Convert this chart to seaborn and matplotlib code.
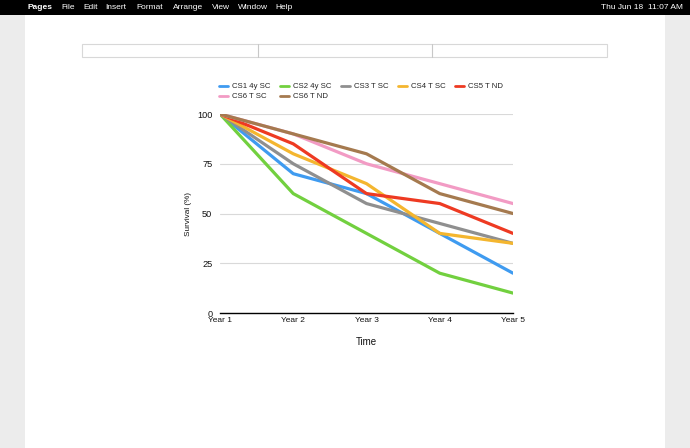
import matplotlib
matplotlib.use("Agg")
import matplotlib.pyplot as plt
import seaborn as sns
import pandas as pd
from matplotlib.patches import Rectangle
from matplotlib.lines import Line2D

years = ["Year 1", "Year 2", "Year 3", "Year 4", "Year 5"]
series_names = ["CS1 4y SC", "CS2 4y SC", "CS3 T SC", "CS4 T SC", "CS5 T ND", "CS6 T SC", "CS6 T ND"]
cs1_4y_sc = [100, 70, 60, 40, 20]
cs2_4y_sc = [100, 60, 40, 20, 10]
cs3_t_sc = [100, 75, 55, 45, 35]
cs4_t_sc = [100, 80, 65, 40, 35]
cs5_t_nd = [100, 85, 60, 55, 40]
cs6_t_sc = [100, 90, 75, 65, 55]
cs6_t_nd = [100, 90, 80, 60, 50]
y_ticks = [0, 25, 50, 75, 100]
colors = ["#3f9bf0", "#72d03f", "#8f8f8f", "#f4b62f", "#ee3a22", "#f29bc4", "#a57a4f"]

values = [cs1_4y_sc, cs2_4y_sc, cs3_t_sc, cs4_t_sc, cs5_t_nd, cs6_t_sc, cs6_t_nd]
rows = []
for name, vals in zip(series_names, values):
    for i, (yr, v) in enumerate(zip(years, vals)):
        rows.append({"Time": i, "Year": yr, "Survival": v, "Series": name})
df = pd.DataFrame(rows)

sns.set_theme(style="white")
plt.rcParams["font.family"] = ["Liberation Sans", "DejaVu Sans"]

fig = plt.figure(figsize=(6.9, 4.48), dpi=100)
W, H = 690, 448

def fx(x):
    return x / W

def fy(y):
    return 1 - y / H

# window chrome
fig.patch.set_facecolor("#ececec")
fig.add_artist(Rectangle((fx(25), 0), fx(640), fy(15), transform=fig.transFigure,
                         facecolor="white", edgecolor="none", zorder=0))
fig.add_artist(Rectangle((0, fy(15)), 1, 15 / H, transform=fig.transFigure,
                         facecolor="black", edgecolor="none", zorder=1))
menu = [("Pages", 28, "bold"), ("File", 61, "normal"), ("Edit", 83, "normal"),
        ("Insert", 105, "normal"), ("Format", 136, "normal"), ("Arrange", 173, "normal"),
        ("View", 212, "normal"), ("Window", 238, "normal"), ("Help", 275, "normal")]
for t, x, w in menu:
    fig.text(fx(x), fy(7.5), t, color="white", fontsize=6.0, weight=w, va="center", ha="left", zorder=2)
fig.text(fx(683), fy(7.5), "Thu Jun 18  11:07 AM", color="white", fontsize=6.0, va="center", ha="right", zorder=2)

# table
fig.add_artist(Rectangle((fx(82), fy(57)), fx(525), 13 / H, transform=fig.transFigure,
                         facecolor="white", edgecolor="#d8d8d8", lw=0.8, zorder=1))
for xd in [258, 432]:
    fig.add_artist(Line2D([fx(xd), fx(xd)], [fy(57), fy(44)], transform=fig.transFigure,
                          color="#c8c8c8", lw=0.8, zorder=2))

ax = fig.add_axes([fx(220), fy(313), fx(293), 199 / H])
ax.set_facecolor("none")
sns.lineplot(data=df, x="Time", y="Survival", hue="Series", hue_order=series_names,
             palette=colors, linewidth=2.3, ax=ax, legend=False, sort=False)
ax.set_xlim(0, 4)
ax.set_ylim(0, 100)
ax.set_xticks(range(len(years)))
ax.set_xticklabels(years)
ax.set_yticks(y_ticks)
ax.yaxis.grid(True, color="#d9d9d9", lw=0.8)
ax.set_axisbelow(True)
for s in ["top", "right", "left"]:
    ax.spines[s].set_visible(False)
ax.spines["bottom"].set_color("black")
ax.spines["bottom"].set_linewidth(1.0)
ax.spines["bottom"].set_zorder(5)
ax.tick_params(axis="y", length=0, labelsize=6.6, colors="#111111", pad=5.5)
ax.tick_params(axis="x", length=0, labelsize=6.0, colors="#111111", pad=3)
ax.set_xlabel("Time", fontsize=7.0, labelpad=9, color="#111111")
ax.set_ylabel("Survival (%)", fontsize=5.9, labelpad=3.5, color="#111111")

# legend, ordered so rows read left-to-right
order = [0, 5, 1, 6, 2, 3, 4]
handles = [Line2D([0], [0], color=colors[i], lw=2) for i in order]
labels = [series_names[i] for i in order]
fig.legend(handles, labels, loc="upper left", bbox_to_anchor=(fx(219), fy(83)),
           ncol=5, frameon=False, fontsize=5.6, handlelength=1.2, handletextpad=0.5,
           columnspacing=1.2, labelspacing=0.3, borderaxespad=0, borderpad=0)

fig.savefig("out.png", dpi=100, facecolor=fig.get_facecolor())
